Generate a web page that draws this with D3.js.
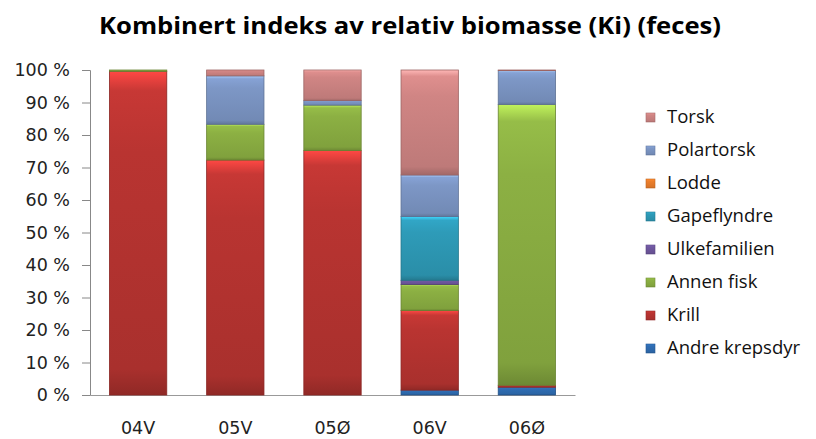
<!DOCTYPE html>
<html>
<head>
<meta charset="utf-8">
<script src="https://cdn.jsdelivr.net/npm/d3@7"></script>
<style>
  body { margin: 0; background: #fff; }
  .tick text { font-family: "DejaVu Sans", sans-serif; font-size: 17.5px; fill: #222; }
  .legendText { font-family: "Open Sans", sans-serif; font-size: 18.5px; fill: #111; }
  .title { font-family: "Open Sans", sans-serif; font-weight: bold; font-size: 23px; fill: #000; }
</style>
</head>
<body>
<div id="chart"></div>
<script>
// categories (x axis)
const categories = ["04V", "05V", "05Ø", "06V", "06Ø"];

// series, bottom to top of the stack
const seriesNames = ["Andre krepsdyr", "Krill", "Annen fisk", "Ulkefamilien", "Gapeflyndre", "Lodde", "Polartorsk", "Torsk"];

// percent values per series, one per category
const andreKrepsdyr = [0, 0, 0, 1.5, 2.4];
const krill         = [99.6, 72.3, 75.2, 24.5, 0.6];
const annenFisk     = [0.4, 11.0, 14.0, 8.0, 86.4];
const ulkefamilien  = [0, 0, 0, 1.3, 0];
const gapeflyndre   = [0, 0, 0, 19.6, 0];
const lodde         = [0, 0, 0, 0, 0];
const polartorsk    = [0, 14.9, 1.4, 12.8, 10.4];
const torsk         = [0, 1.8, 9.4, 32.3, 0.2];

const yTicks = [0, 10, 20, 30, 40, 50, 60, 70, 80, 90, 100];

const seriesValues = [andreKrepsdyr, krill, annenFisk, ulkefamilien, gapeflyndre, lodde, polartorsk, torsk];
const colours = ["#2f6db3", "#b93431", "#8cb043", "#7058a0", "#2e9bb8", "#ec7f2c", "#7d97c6", "#d08584"];

// build table for d3.stack
const table = categories.map((c, i) => {
    let row = { cat: c };
    seriesNames.forEach((s, j) => { row[s] = seriesValues[j][i]; });
    return row;
});

const W = 816, H = 439;
const margin = { top: 70, right: 241, bottom: 44, left: 90 };
const width = W - margin.left - margin.right;
const height = H - margin.top - margin.bottom;

const svg = d3.select("#chart").append("svg")
    .attr("width", W)
    .attr("height", H);

// gradients for the bevelled look
const defs = svg.append("defs");
colours.forEach((c, i) => {
    let base = d3.color(c);
    let g = defs.append("linearGradient")
        .attr("id", "grad" + i)
        .attr("x1", 0).attr("y1", 0).attr("x2", 0).attr("y2", 1);
    g.append("stop").attr("offset", "0%").attr("stop-color", base.brighter(0.9));
    g.append("stop").attr("offset", "6%").attr("stop-color", base.brighter(0.2));
    g.append("stop").attr("offset", "25%").attr("stop-color", base);
    g.append("stop").attr("offset", "92%").attr("stop-color", base.darker(0.25));
    g.append("stop").attr("offset", "100%").attr("stop-color", base.darker(0.7));
});

const g = svg.append("g")
    .attr("transform", "translate(" + margin.left + "," + margin.top + ")");

const colour = d3.scaleOrdinal().domain(seriesNames).range(colours);

const x = d3.scaleBand()
    .domain(categories)
    .range([0, width])
    .paddingInner(0.41)
    .paddingOuter(0.2);

const y = d3.scaleLinear()
    .domain([0, 100])
    .range([height, 0]);

// y axis
const yAxis = g.append("g")
    .attr("class", "y-axis")
    .call(d3.axisLeft(y).tickValues(yTicks).tickSize(8).tickPadding(12).tickFormat(d => d + " %"));
yAxis.select(".domain").attr("stroke", "#888").attr("d", "M-8,0.5H0.5V" + (height + 0.5) + "H-8");
yAxis.selectAll(".tick line").attr("stroke", "#888");

// x axis
const xAxis = g.append("g")
    .attr("class", "x-axis")
    .attr("transform", "translate(0," + height + ")")
    .call(d3.axisBottom(x).tickSize(0).tickPadding(27));
xAxis.select(".domain").attr("stroke", "#999");

// stacked bars
const stack = d3.stack().keys(seriesNames);
const stacked = stack(table);

g.append("g")
    .selectAll("g")
    .data(stacked)
    .enter()
    .append("g")
    .attr("fill", (d, i) => "url(#grad" + i + ")")
    .attr("stroke", (d, i) => d3.color(colours[i]).darker(0.8))
    .attr("stroke-width", 0.8)
    .selectAll("rect")
    .data(d => d.filter(p => p[1] - p[0] > 0))
    .enter().append("rect")
    .attr("x", d => x(d.data.cat))
    .attr("y", d => y(d[1]))
    .attr("width", x.bandwidth())
    .attr("height", d => y(d[0]) - y(d[1]));

// title
svg.append("text")
    .attr("class", "title")
    .attr("x", 410)
    .attr("y", 34)
    .attr("text-anchor", "middle")
    .attr("textLength", 622)
    .attr("lengthAdjust", "spacingAndGlyphs")
    .text("Kombinert indeks av relativ biomasse (Ki) (feces)");

// legend, top item = top of stack
const legendArray = seriesNames.slice().reverse();
const legend = svg.append("g")
    .attr("transform", "translate(646,117)");

const legends = legend.selectAll(".legend")
    .data(legendArray)
    .enter()
    .append("g")
    .attr("class", "legend")
    .attr("transform", (d, i) => "translate(0," + i * 33 + ")");

legends.append("rect")
    .attr("x", 0)
    .attr("y", -4)
    .attr("width", 9)
    .attr("height", 9)
    .attr("fill", d => "url(#grad" + seriesNames.indexOf(d) + ")")
    .attr("stroke", d => d3.color(colour(d)).darker(0.6))
    .attr("stroke-width", 0.6);

legends.append("text")
    .attr("class", "legendText")
    .attr("x", 21)
    .attr("y", 0)
    .attr("dy", ".35em")
    .text(d => d);
</script>
</body>
</html>
